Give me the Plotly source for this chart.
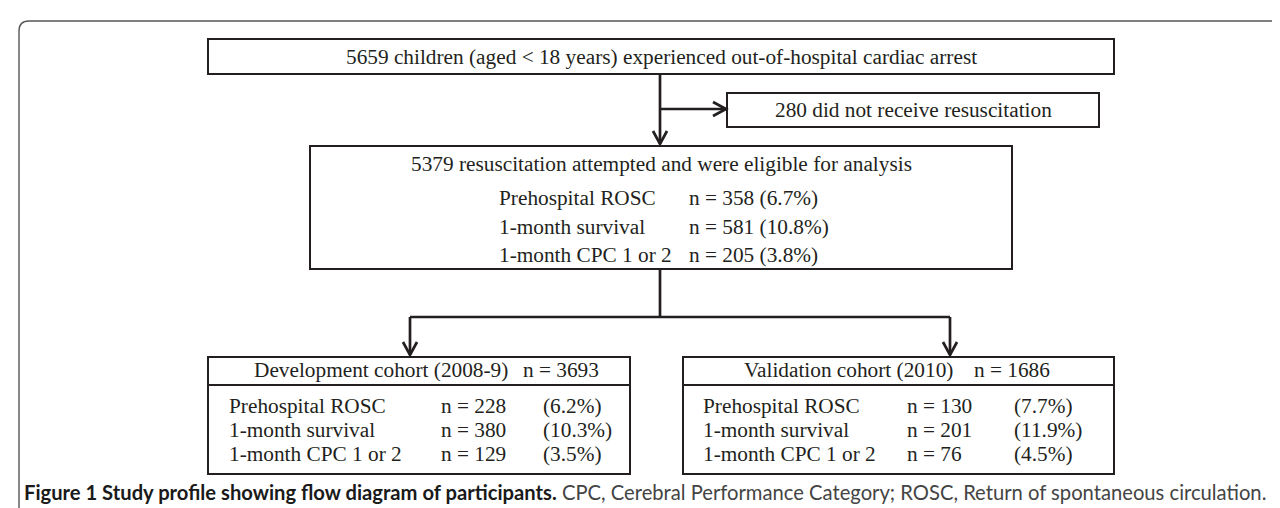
import plotly.graph_objects as go

# ---------------- data ----------------
total_label = "5659 children (aged < 18 years) experienced out-of-hospital cardiac arrest"
excluded_label = "280 did not receive resuscitation"
eligible_label = "5379 resuscitation attempted and were eligible for analysis"
outcomes = ["Prehospital ROSC", "1-month survival", "1-month CPC 1 or 2"]
eligible_n = [358, 581, 205]
eligible_pct = ["6.7%", "10.8%", "3.8%"]
cohort_names = ["Development cohort (2008-9)", "Validation cohort (2010)"]
cohort_sizes = [3693, 1686]
dev_n = [228, 380, 129]
dev_pct = ["6.2%", "10.3%", "3.5%"]
val_n = [130, 201, 76]
val_pct = ["7.7%", "11.9%", "4.5%"]
caption_bold = "Figure 1 Study profile showing flow diagram of participants."
caption_text = "CPC, Cerebral Performance Category; ROSC, Return of spontaneous circulation."

# ---------------- layout (pixel coordinates) ----------------
W, H = 1280, 508
SERIF = "Liberation Serif, Times New Roman, serif"
FS = 21.3
TXT = "#231f20"
LINE = "#231f20"

TOP_BOX = (200, 31, 1106, 66)
EXCL_BOX = (719, 85, 1091, 119)
MID_BOX = (302, 138, 1004, 261)
DEV_BOX = (200, 349, 622, 466)
VAL_BOX = (675, 349, 1106, 466)
HEADER_SEP = 377
SPINE_X = 652
BRANCH_Y = 101
CONNECT_Y = 309
ARROW_X = [402, 942]

MID_TITLE_Y = 156
MID_ROW_Y = [190, 219, 247]
MID_LABEL_X = 489
MID_VAL_X = 679

HEAD_Y = 362
ROW_Y = [398, 422, 446]
COLS = [(219, 431, 533), (693, 897, 1004)]
HEAD_X = [(244, 513), (734, 964)]

fig = go.Figure()
fig.add_trace(go.Scatter(x=[0, W], y=[0, H], mode="markers",
                         marker=dict(opacity=0), hoverinfo="skip", showlegend=False))

shapes = []
annotations = []


def rect(b, w=2):
    shapes.append(dict(type="rect", xref="x", yref="y", x0=b[0], y0=b[1], x1=b[2], y1=b[3],
                       line=dict(color=LINE, width=w), fillcolor="rgba(0,0,0,0)"))


def line(x0, y0, x1, y1, w=2.7):
    shapes.append(dict(type="line", xref="x", yref="y", x0=x0, y0=y0, x1=x1, y1=y1,
                       line=dict(color=LINE, width=w)))


def arrow_down(x, y_tip, w=2.7):
    hw, hl = 7, 13
    shapes.append(dict(type="path", xref="x", yref="y",
                       path=f"M {x-hw},{y_tip-hl} L {x},{y_tip} L {x+hw},{y_tip-hl}",
                       line=dict(color=LINE, width=w)))


def arrow_right(x_tip, y, w=2.7):
    hw, hl = 7, 13
    shapes.append(dict(type="path", xref="x", yref="y",
                       path=f"M {x_tip-hl},{y-hw} L {x_tip},{y} L {x_tip-hl},{y+hw}",
                       line=dict(color=LINE, width=w)))


def text(x, y, s, anchor="left", size=FS, color=TXT, family=SERIF):
    annotations.append(dict(x=x, y=y, xref="x", yref="y", text=s, showarrow=False,
                            xanchor=anchor, yanchor="middle",
                            font=dict(family=family, size=size, color=color)))


# outer frame (top and left edges with rounded corner)
r = 10
fx, fy = 11, 13
shapes.append(dict(type="path", xref="x", yref="y",
                   path=f"M {fx},{H} L {fx},{fy+r} Q {fx},{fy} {fx+r},{fy} L {W},{fy}",
                   line=dict(color="#555555", width=1.4)))

# boxes
rect(TOP_BOX)
rect(EXCL_BOX)
rect(MID_BOX)
rect(DEV_BOX)
rect(VAL_BOX)
line(DEV_BOX[0], HEADER_SEP, DEV_BOX[2], HEADER_SEP, w=2)
line(VAL_BOX[0], HEADER_SEP, VAL_BOX[2], HEADER_SEP, w=2)

# connectors
line(SPINE_X, TOP_BOX[3], SPINE_X, MID_BOX[1] - 2)
arrow_down(SPINE_X, MID_BOX[1] - 2)
line(SPINE_X, BRANCH_Y, EXCL_BOX[0] - 1, BRANCH_Y)
arrow_right(EXCL_BOX[0] - 1, BRANCH_Y)
line(SPINE_X, MID_BOX[3], SPINE_X, CONNECT_Y)
line(ARROW_X[0], CONNECT_Y, ARROW_X[1], CONNECT_Y)
for ax in ARROW_X:
    line(ax, CONNECT_Y, ax, DEV_BOX[1] - 2)
    arrow_down(ax, DEV_BOX[1] - 2)

# texts
text((TOP_BOX[0] + TOP_BOX[2]) / 2, (TOP_BOX[1] + TOP_BOX[3]) / 2, total_label, anchor="center")
text((EXCL_BOX[0] + EXCL_BOX[2]) / 2, (EXCL_BOX[1] + EXCL_BOX[3]) / 2, excluded_label, anchor="center")
text((MID_BOX[0] + MID_BOX[2]) / 2, MID_TITLE_Y, eligible_label, anchor="center")
for i, lab in enumerate(outcomes):
    text(MID_LABEL_X, MID_ROW_Y[i], lab)
    text(MID_VAL_X, MID_ROW_Y[i], f"n = {eligible_n[i]} ({eligible_pct[i]})")

for k, (ns, pcts) in enumerate([(dev_n, dev_pct), (val_n, val_pct)]):
    hx0, hx1 = HEAD_X[k]
    text(hx0, HEAD_Y, cohort_names[k])
    text(hx1, HEAD_Y, f"n = {cohort_sizes[k]}")
    cx0, cx1, cx2 = COLS[k]
    for i, lab in enumerate(outcomes):
        text(cx0, ROW_Y[i], lab)
        text(cx1, ROW_Y[i], f"n = {ns[i]}")
        text(cx2, ROW_Y[i], f"({pcts[i]})")

# caption
text(14, 484, f"<b>{caption_bold}</b> <span style='color:#444444'>{caption_text}</span>",
     size=20.2, color="#1a1a1a", family="Lato, Open Sans, sans-serif")

fig.update_layout(
    width=W, height=H,
    margin=dict(l=0, r=0, t=0, b=0),
    paper_bgcolor="white", plot_bgcolor="white",
    xaxis=dict(range=[0, W], visible=False, fixedrange=True),
    yaxis=dict(range=[H, 0], visible=False, fixedrange=True),
    shapes=shapes, annotations=annotations, showlegend=False,
)

fig.write_html("out.html")
